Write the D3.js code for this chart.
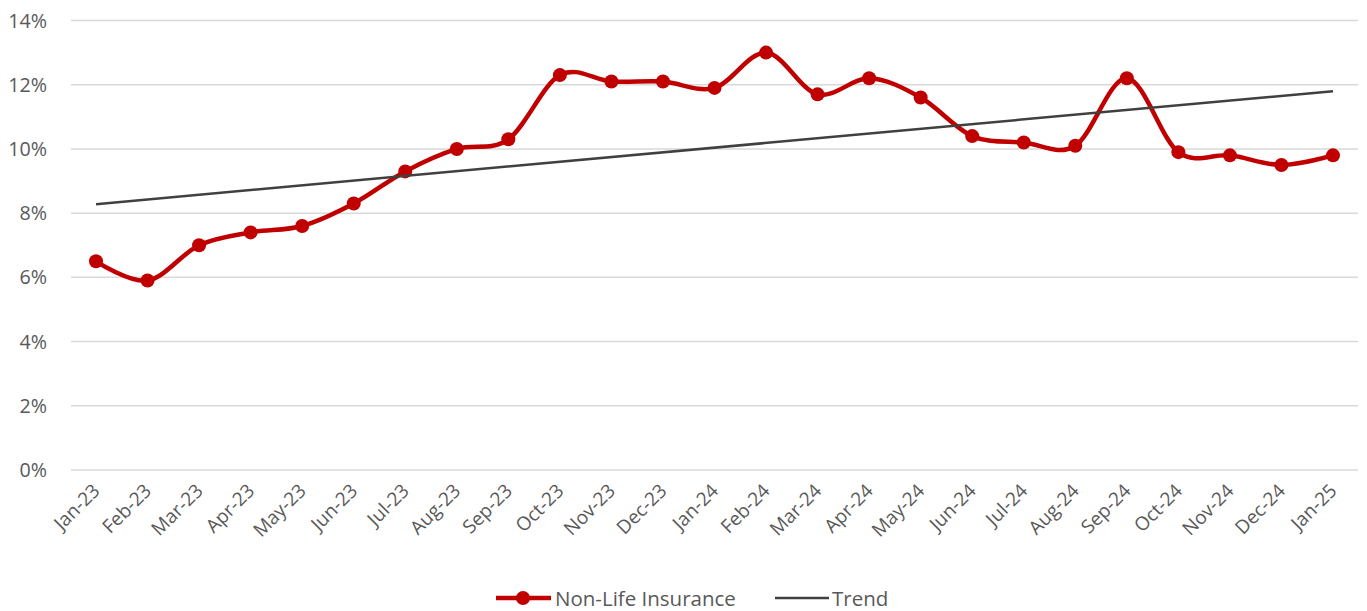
<!DOCTYPE html>
<html><head><meta charset="utf-8">
<script src="https://cdn.jsdelivr.net/npm/d3@7"></script>
<style>body{margin:0;background:#fff}svg{display:block}text{font-family:"Open Sans","Liberation Sans",sans-serif;fill:#595959}</style>
</head><body><svg id="c" width="1367" height="611"></svg>
<script>
const categories = ["Jan-23","Feb-23","Mar-23","Apr-23","May-23","Jun-23","Jul-23","Aug-23","Sep-23","Oct-23","Nov-23","Dec-23","Jan-24","Feb-24","Mar-24","Apr-24","May-24","Jun-24","Jul-24","Aug-24","Sep-24","Oct-24","Nov-24","Dec-24","Jan-25"];
const nonLife = [6.5,5.9,7.0,7.4,7.6,8.3,9.3,10.0,10.3,12.3,12.1,12.1,11.9,13.0,11.7,12.2,11.6,10.4,10.2,10.1,12.2,9.9,9.8,9.5,9.8];
const trendEnds = [8.28, 11.8];
const yTicks = [0,2,4,6,8,10,12,14];
const seriesNames = ["Non-Life Insurance","Trend"];

const svg = d3.select("#c");
const x = d3.scalePoint().domain(categories).range([96, 1333]);
const y = d3.scaleLinear().domain([0,14]).range([470, 20.5]);

svg.append("g").selectAll("line").data(yTicks).join("line")
  .attr("x1",71).attr("x2",1358).attr("y1",d=>y(d)).attr("y2",d=>y(d))
  .attr("stroke","#d9d9d9").attr("stroke-width",1.5);
svg.append("g").selectAll("text").data(yTicks).join("text")
  .attr("x",47).attr("y",d=>y(d)+7).attr("text-anchor","end")
  .attr("font-size",19.7).text(d=>d+"%");
svg.append("g").selectAll("text").data(categories).join("text")
  .attr("transform",d=>`translate(${x(d)+5},${492}) rotate(-45)`)
  .attr("text-anchor","end").attr("font-size",19).text(d=>d);

const line = d3.line().x((d,i)=>x(categories[i])).y(d=>y(d)).curve(d3.curveCatmullRom.alpha(0));
svg.append("path").datum(nonLife).attr("d",line).attr("fill","none")
  .attr("stroke","#C00000").attr("stroke-width",4.5).attr("stroke-linejoin","round");
svg.append("g").selectAll("circle").data(nonLife).join("circle")
  .attr("cx",(d,i)=>x(categories[i])).attr("cy",d=>y(d)).attr("r",7).attr("fill","#C00000");

svg.append("line").attr("x1",x(categories[0])).attr("x2",x(categories[categories.length-1]))
  .attr("y1",y(trendEnds[0])).attr("y2",y(trendEnds[1]))
  .attr("stroke","#404040").attr("stroke-width",2.5);

const lg = svg.append("g");
lg.append("line").attr("x1",496).attr("x2",551).attr("y1",598).attr("y2",598).attr("stroke","#C00000").attr("stroke-width",4.5);
lg.append("circle").attr("cx",523).attr("cy",598).attr("r",7).attr("fill","#C00000");
lg.append("text").attr("x",555).attr("y",605.5).attr("font-size",20.5).text(seriesNames[0]);
lg.append("line").attr("x1",775).attr("x2",829).attr("y1",598).attr("y2",598).attr("stroke","#404040").attr("stroke-width",2.5);
lg.append("text").attr("x",832).attr("y",605.5).attr("font-size",20.5).text(seriesNames[1]);
</script></body></html>
